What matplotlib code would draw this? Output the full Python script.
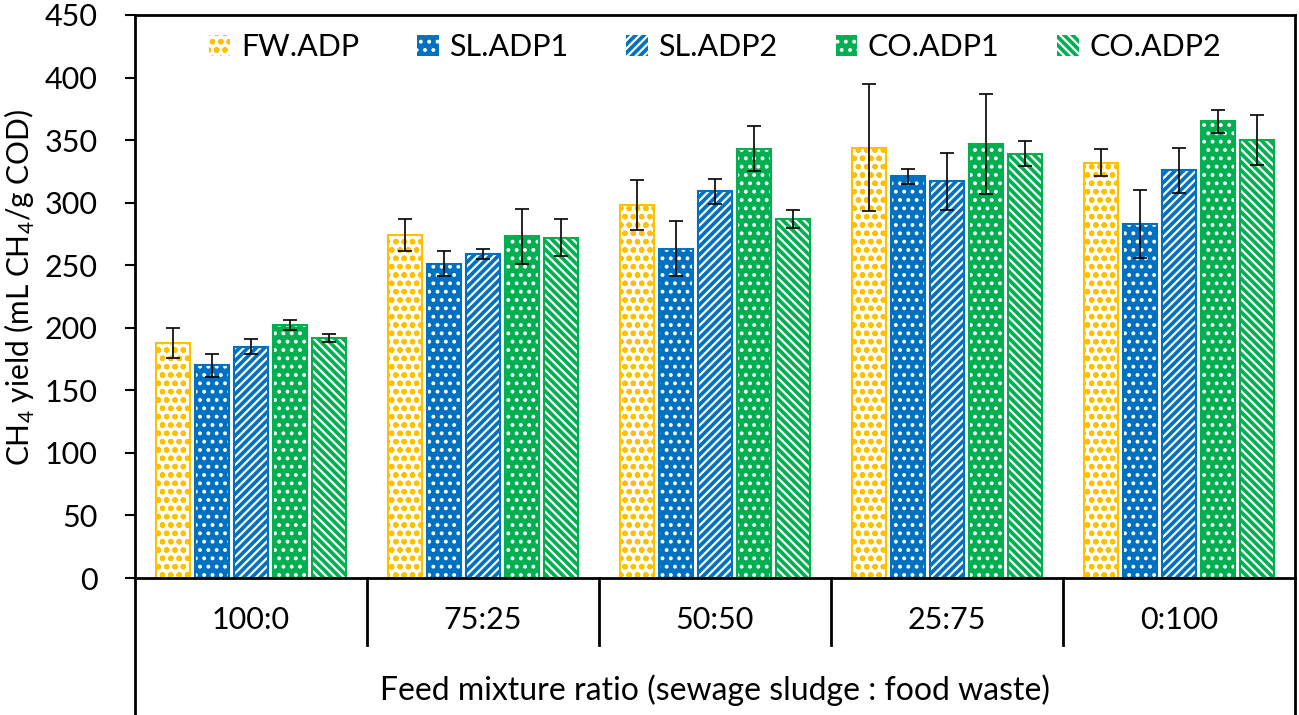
import numpy as np
import matplotlib
matplotlib.use('Agg')
import matplotlib.pyplot as plt
from matplotlib.patches import Patch

plt.rcParams['font.family'] = ['Lato', 'DejaVu Sans']
plt.rcParams['mathtext.fontset'] = 'custom'
plt.rcParams['mathtext.rm'] = 'Lato'
plt.rcParams['hatch.linewidth'] = 1.6

ratios = ['100:0', '75:25', '50:50', '25:75', '0:100']
series = ['FW.ADP', 'SL.ADP1', 'SL.ADP2', 'CO.ADP1', 'CO.ADP2']

fw_adp = [188, 274, 298, 344, 332]
sl_adp1 = [170, 251, 263, 321, 283]
sl_adp2 = [185, 259, 309, 317, 326]
co_adp1 = [202, 273, 343, 347, 365]
co_adp2 = [192, 272, 287, 339, 350]

fw_err = [12, 13, 20, 51, 11]
sl1_err = [9, 10, 22, 6, 27]
sl2_err = [6, 4, 10, 23, 18]
co1_err = [4, 22, 18, 40, 9]
co2_err = [3, 15, 7, 10, 20]

values = [fw_adp, sl_adp1, sl_adp2, co_adp1, co_adp2]
errors = [fw_err, sl1_err, sl2_err, co1_err, co2_err]

yellow = '#FFC000'
blue = '#0070C0'
green = '#00B050'
# (face, hatch colour, hatch, outline colour)
styles = [
    ('white', yellow, 'oo', yellow),
    (blue, 'white', '..', blue),
    (blue, 'white', '////', blue),
    (green, 'white', '..', green),
    (green, 'white', '\\\\\\\\', green),
]

fs = 22

fig = plt.figure(figsize=(12.99, 7.15), dpi=100)
W, H = 1299, 715
ax = fig.add_axes([135 / W, (H - 578) / H, (1295 - 135) / W, (578 - 15) / H])

x = np.arange(len(ratios))
width = 0.148
step = 0.168
for i, (vals, errs) in enumerate(zip(values, errors)):
    face, hcol, hatch, ecol = styles[i]
    pos = x + (i - 2) * step
    ax.bar(pos, vals, width, color=face, edgecolor=hcol, hatch=hatch, linewidth=0)
    ax.bar(pos, vals, width, fill=False, edgecolor=ecol, linewidth=1.5)
    ax.errorbar(pos, vals, yerr=errs, fmt='none', ecolor='black',
                elinewidth=1.2, capsize=5, capthick=1.2)

ax.set_xlim(-0.5, len(ratios) - 0.5)
ax.set_ylim(0, 450)
ax.set_yticks(np.arange(0, 451, 50))
ax.tick_params(axis='y', direction='out', length=7, width=1.5, labelsize=fs, pad=20)
ax.tick_params(axis='x', length=0, labelsize=fs, pad=20)
ax.set_xticks(x)
ax.set_xticklabels(ratios)
for s in ax.spines.values():
    s.set_linewidth(2)
    s.set_color('black')

# category box below the axis
depth = -(715 - 578) / (578 - 15) * 450
sep = -(645 - 578) / (578 - 15) * 450
for xs in x[:-1] + 0.5:
    ax.plot([xs, xs], [0, sep], color='black', lw=2, clip_on=False)
for xs in [-0.5, len(ratios) - 0.5]:
    ax.plot([xs, xs], [0, depth], color='black', lw=2, clip_on=False)

fig.text((135 + 1295) / 2 / W, 1 - 690 / H,
         'Feed mixture ratio (sewage sludge : food waste)',
         ha='center', va='center', fontsize=23)
fig.text(20 / W, 1 - 287 / H, r'CH$_\mathregular{4}$ yield (mL CH$_\mathregular{4}$/g COD)',
         rotation=90, ha='center', va='center', fontsize=21.5)

handles = [Patch(facecolor=f, edgecolor=h, hatch=ht, linewidth=0) for f, h, ht, e in styles]
ax.legend(handles, series, loc='upper center', bbox_to_anchor=(0.5, 1.0), ncol=5,
          frameon=False, fontsize=fs, handlelength=0.7, handleheight=0.7,
          columnspacing=1.9, handletextpad=0.35, borderaxespad=0.2)

fig.savefig('out.png', dpi=100)
